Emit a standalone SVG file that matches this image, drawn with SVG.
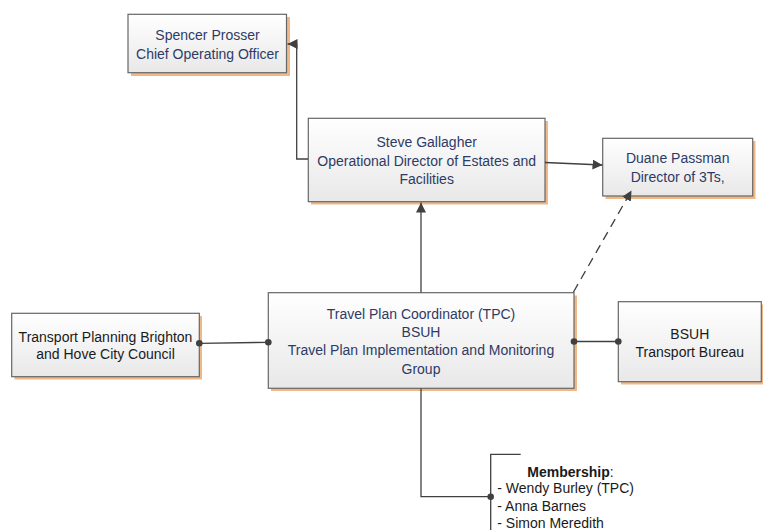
<svg xmlns="http://www.w3.org/2000/svg" width="763" height="530" viewBox="0 0 763 530">
<defs>
<linearGradient id="fill" x1="0" y1="0" x2="0" y2="1">
<stop offset="0" stop-color="#ffffff"/>
<stop offset="1" stop-color="#e8e8e8"/>
</linearGradient>
<marker id="arr" viewBox="0 0 10 10" refX="10" refY="5" markerWidth="10" markerHeight="10" markerUnits="userSpaceOnUse" orient="auto">
<path d="M0,0 L10,5 L0,10 Z" fill="#404040"/>
</marker>
</defs>
<style>
.shadow{fill:#f0b888;}
.box{fill:url(#fill);stroke:#666;stroke-width:1.2;}
.t{font-family:"Liberation Sans",Arial,sans-serif;font-size:14px;fill:#2e3b66;text-anchor:middle;}
.k{font-family:"Liberation Sans",Arial,sans-serif;font-size:14px;fill:#1a1a1a;text-anchor:middle;}
.m{font-family:"Liberation Sans",Arial,sans-serif;font-size:14px;fill:#1a1a1a;}
.c{fill:none;stroke:#404040;stroke-width:1.3;}
.d{fill:#404040;}
</style>
<g id="spencer">
<rect class="shadow" x="131" y="17" width="159" height="59"/>
<rect class="box" x="128" y="14.3" width="158.5" height="58.4"/>
<text class="t" x="207.5" y="40">Spencer Prosser</text>
<text class="t" x="207.5" y="59">Chief Operating Officer</text>
</g>
<g id="steve">
<rect class="shadow" x="311" y="121" width="237" height="83.5"/>
<rect class="box" x="308.3" y="118.3" width="236.7" height="83.4"/>
<text class="t" x="426.7" y="146.5">Steve Gallagher</text>
<text class="t" x="426.7" y="165.5">Operational Director of Estates and</text>
<text class="t" x="426.7" y="183.5">Facilities</text>
</g>
<g id="duane">
<rect class="shadow" x="605.5" y="141" width="150" height="58"/>
<rect class="box" x="602.7" y="138.3" width="150" height="57.7"/>
<text class="t" x="677.7" y="163">Duane Passman</text>
<text class="t" x="677.7" y="181.5">Director of 3Ts,</text>
</g>
<g id="tpc">
<rect class="shadow" x="271" y="295.5" width="306" height="95.5"/>
<rect class="box" x="268.3" y="292.7" width="305.7" height="95.6"/>
<text class="t" x="421" y="318.5">Travel Plan Coordinator (TPC)</text>
<text class="t" x="421" y="336.8">BSUH</text>
<text class="t" x="421" y="355.1">Travel Plan Implementation and Monitoring</text>
<text class="t" x="421" y="373.5">Group</text>
</g>
<g id="transport-planning">
<rect class="shadow" x="14.5" y="316" width="187.5" height="63.5"/>
<rect class="box" x="11.7" y="313.3" width="187.6" height="63.4"/>
<text class="k" x="105.5" y="341.8">Transport Planning Brighton</text>
<text class="k" x="105.5" y="359.2">and Hove City Council</text>
</g>
<g id="transport-bureau">
<rect class="shadow" x="621" y="304.5" width="142" height="80"/>
<rect class="box" x="618.3" y="301.7" width="143" height="80"/>
<text class="k" x="689.8" y="338.5">BSUH</text>
<text class="k" x="689.8" y="356.9">Transport Bureau</text>
</g>
<g id="membership">
<polyline class="c" points="520.7,454.3 490.7,454.3 490.7,530" stroke="#666"/>
<text class="k" x="570.5" y="476.5"><tspan font-weight="bold">Membership</tspan>:</text>
<text class="m" x="497.3" y="493.2">- Wendy Burley (TPC)</text>
<text class="m" x="497.3" y="510.8">- Anna Barnes</text>
<text class="m" x="497.3" y="527.6">- Simon Meredith</text>
</g>
<g id="connectors">
<polyline class="c" points="308,159 296.7,159 296.7,44 287.5,44" marker-end="url(#arr)"/>
<line class="c" x1="545" y1="162.5" x2="602.5" y2="165" marker-end="url(#arr)"/>
<line class="c" x1="421" y1="292.5" x2="421" y2="202.5" marker-end="url(#arr)"/>
<line class="c" x1="573.5" y1="292" x2="631.5" y2="190.5" stroke-dasharray="9,6" marker-end="url(#arr)"/>
<line class="c" x1="199.3" y1="343.3" x2="268.3" y2="342.3"/>
<circle class="d" cx="199.3" cy="343.3" r="3.3"/>
<circle class="d" cx="268.3" cy="342.3" r="3.3"/>
<line class="c" x1="574" y1="341.5" x2="618.3" y2="341.5"/>
<circle class="d" cx="574" cy="341.5" r="3.3"/>
<circle class="d" cx="618.3" cy="341.5" r="3.3"/>
<polyline class="c" points="421,388.5 421,496.7 490.7,496.7"/>
<circle class="d" cx="490.7" cy="496.7" r="3.3"/>
</g>
</svg>
